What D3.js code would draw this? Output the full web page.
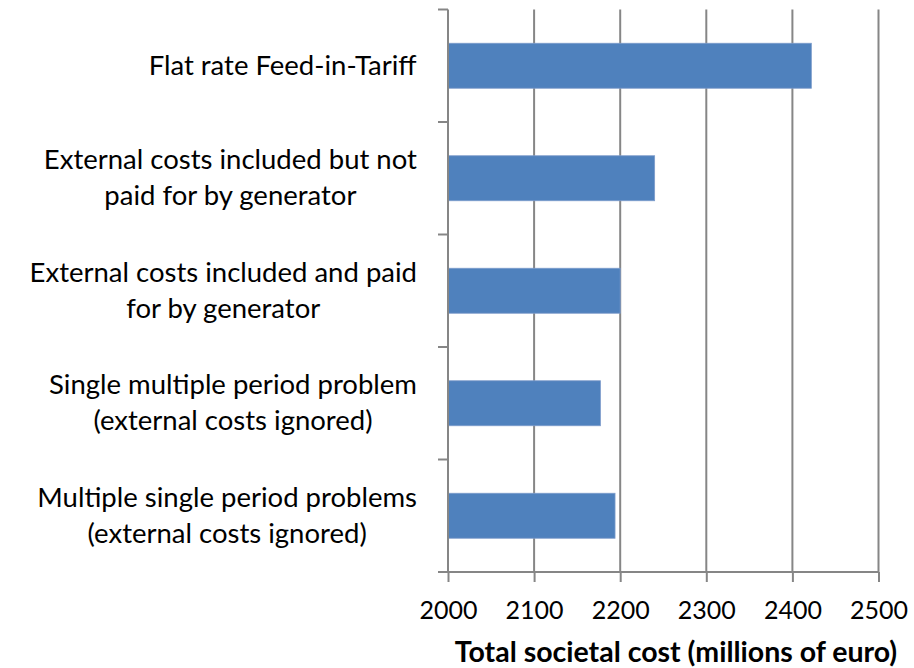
<!DOCTYPE html>
<html>
<head>
<meta charset="utf-8">
<script src="https://cdn.jsdelivr.net/npm/d3@7"></script>
<style>
  body { margin: 0; background: #fff; }
  svg { display: block; font-family: Lato, "Open Sans", sans-serif; }
</style>
</head>
<body>
<svg id="chart" width="914" height="668"></svg>
<script>
// categories top to bottom, each split into label lines
const categories = [
  ["Flat rate Feed-in-Tariff"],
  ["External costs included but not", "paid for by generator"],
  ["External costs included and paid", "for by generator"],
  ["Single multiple period problem", "(external costs ignored)"],
  ["Multiple single period problems", "(external costs ignored)"]
];
const costs = [2422, 2240, 2200, 2177, 2194];
const xTicks = [2000, 2100, 2200, 2300, 2400, 2500];
const xTitle = "Total societal cost (millions of euro)";

const svg = d3.select("#chart");
const plotLeft = 448, plotRight = 878.5, plotTop = 9.5, plotBottom = 572;

const x = d3.scaleLinear().domain([2000, 2500]).range([plotLeft, plotRight]);
const y = d3.scaleBand().domain(d3.range(categories.length)).range([plotTop, plotBottom]).paddingInner(0.6).paddingOuter(0.3);
const bandStep = (plotBottom - plotTop) / categories.length;

// vertical gridlines
svg.append("g").selectAll("line")
  .data(xTicks.slice(1))
  .join("line")
  .attr("x1", d => x(d)).attr("x2", d => x(d))
  .attr("y1", plotTop).attr("y2", plotBottom)
  .attr("stroke", "#868686").attr("stroke-width", 2);

// bars
svg.append("g").selectAll("rect")
  .data(costs)
  .join("rect")
  .attr("x", x(2000))
  .attr("y", (d, i) => y(i))
  .attr("width", d => x(d) - x(2000))
  .attr("height", y.bandwidth())
  .attr("fill", "#4F81BD")
  .attr("stroke", "#7d9ccb").attr("stroke-width", 0.8);

// y axis line and category ticks
svg.append("line")
  .attr("x1", plotLeft).attr("x2", plotLeft).attr("y1", plotTop).attr("y2", plotBottom)
  .attr("stroke", "#868686").attr("stroke-width", 2);
svg.append("g").selectAll("line")
  .data(d3.range(categories.length + 1))
  .join("line")
  .attr("x1", plotLeft - 10).attr("x2", plotLeft)
  .attr("y1", i => plotTop + i * bandStep).attr("y2", i => plotTop + i * bandStep)
  .attr("stroke", "#868686").attr("stroke-width", 2);

// x axis
const xAxis = svg.append("g").attr("transform", `translate(0,${plotBottom})`)
  .call(d3.axisBottom(x).tickValues(xTicks).tickFormat(d3.format("d"))
    .tickSize(10).tickSizeOuter(0).tickPadding(19));
xAxis.select(".domain").remove();
xAxis.append("line").attr("x1", plotLeft - 10).attr("x2", plotRight).attr("stroke", "#868686").attr("stroke-width", 2);
xAxis.selectAll(".tick line").attr("stroke", "#868686").attr("stroke-width", 2);
xAxis.selectAll(".tick text").attr("font-size", 25).attr("fill", "#000")
  .attr("font-family", "Lato, sans-serif");

// x title
svg.append("text")
  .attr("x", 676).attr("y", 655)
  .attr("text-anchor", "middle").attr("dominant-baseline", "middle")
  .attr("font-size", 28.5).attr("font-weight", "bold").attr("fill", "#000")
  .text(xTitle);

// category labels
const lineH = 36;
categories.forEach((lines, i) => {
  const cy = y(i) + y.bandwidth() / 2 + 2;
  const t = svg.append("text")
    .attr("text-anchor", "middle")
    .attr("font-size", 27.5).attr("fill", "#000");
  lines.forEach((ln, j) => {
    t.append("tspan")
      .attr("x", 0)
      .attr("y", cy + (j - (lines.length - 1) / 2) * lineH)
      .attr("dominant-baseline", "middle")
      .text(ln);
  });
  // center block so its right edge sits at 417
  const w = t.node().getBBox().width;
  t.selectAll("tspan").attr("x", 417 - w / 2);
});
</script>
</body>
</html>
